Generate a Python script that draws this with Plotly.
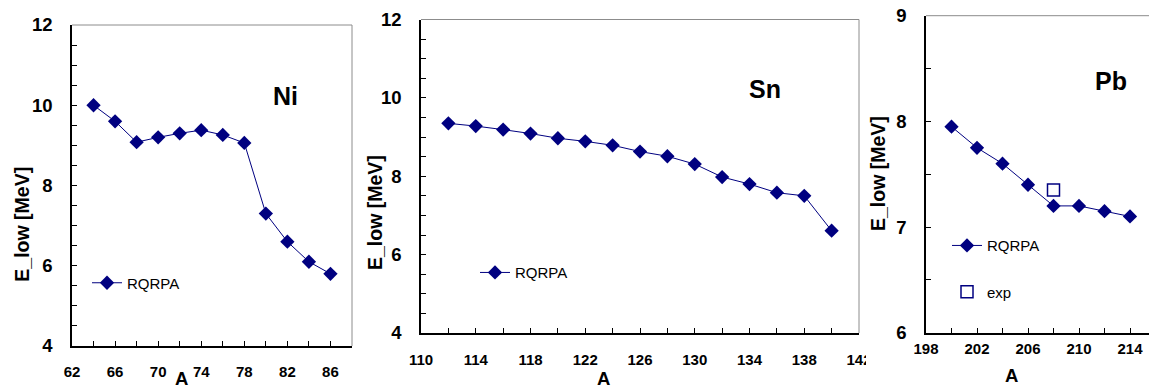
import plotly.graph_objects as go

# Lowest-energy peak positions (RQRPA) along three isotope chains
ni_A = [64, 66, 68, 70, 72, 74, 76, 78, 80, 82, 84, 86]
ni_E = [10.0, 9.6, 9.08, 9.2, 9.3, 9.38, 9.26, 9.06, 7.3, 6.6, 6.1, 5.8]

sn_A = [112, 114, 116, 118, 120, 122, 124, 126, 128, 130, 132, 134, 136, 138, 140]
sn_E = [9.35, 9.28, 9.19, 9.09, 8.97, 8.89, 8.79, 8.63, 8.51, 8.31, 7.98, 7.80, 7.58, 7.50, 6.61]

pb_A = [200, 202, 204, 206, 208, 210, 212, 214]
pb_E = [7.95, 7.75, 7.6, 7.4, 7.2, 7.2, 7.15, 7.1]

# Experimental point for 208Pb
pb_exp_A = [208]
pb_exp_E = [7.35]

W, H = 1149, 392
NAVY = "#000080"
FONT = "Liberation Sans, Arial, sans-serif"


def px_x(p):
    return p / W


def px_y(p):
    return 1 - p / H


fig = go.Figure()

series = [
    (ni_A, ni_E, "x", "y", "legend"),
    (sn_A, sn_E, "x2", "y2", "legend2"),
    (pb_A, pb_E, "x3", "y3", "legend3"),
]
for a, e, xa, ya, lg in series:
    fig.add_trace(go.Scatter(
        x=a, y=e, xaxis=xa, yaxis=ya, mode="lines+markers", name="RQRPA",
        line=dict(color=NAVY, width=1),
        marker=dict(symbol="diamond", size=11, color=NAVY),
        legend=lg,
    ))

fig.add_trace(go.Scatter(
    x=pb_exp_A, y=pb_exp_E, xaxis="x3", yaxis="y3", mode="markers", name="exp",
    marker=dict(symbol="square-open", size=12, color=NAVY, line=dict(width=1.5, color=NAVY)),
    legend="legend4",
))


def xaxis(dom, rng, tick0, standoff, anchor):
    return dict(
        domain=dom, range=rng, anchor=anchor, tick0=tick0, dtick=4,
        ticks="inside", ticklen=5, tickwidth=1, tickcolor="black",
        minor=dict(dtick=2, tick0=tick0, ticks="inside", ticklen=5, tickwidth=1, tickcolor="black"),
        showline=True, linecolor="black", linewidth=1.5, showgrid=False, zeroline=False,
        tickfont=dict(family=FONT, size=15, color="black", weight="bold"),
        ticklabelstandoff=standoff, fixedrange=True, automargin=False,
    )


def yaxis(dom, rng, dtick, anchor):
    return dict(
        domain=dom, range=rng, anchor=anchor, dtick=dtick, tick0=rng[0],
        ticks="inside", ticklen=5, tickwidth=1, tickcolor="black",
        minor=dict(dtick=0.5, ticks="inside", ticklen=5, tickwidth=1, tickcolor="black"),
        showline=True, linecolor="black", linewidth=1.5, showgrid=False, zeroline=False,
        tickfont=dict(family=FONT, size=18.5, color="black", weight="bold"),
        ticklabelstandoff=14, fixedrange=True, automargin=False,
    )


fig.update_layout(
    width=W, height=H, margin=dict(l=0, r=0, t=0, b=0, pad=0, autoexpand=False),
    paper_bgcolor="white", plot_bgcolor="white",
    xaxis=xaxis([px_x(72), px_x(352)], [62, 88], 62, 11, "y"),
    yaxis=yaxis([px_y(346), px_y(25)], [4, 12], 2, "x"),
    xaxis2=xaxis([px_x(421), px_x(859)], [110, 142], 110, 12, "y2"),
    yaxis2=yaxis([px_y(333), px_y(19.5)], [4, 12], 2, "x2"),
    xaxis3=xaxis([px_x(926), 1.0], [198, 215.49], 198, 2, "y3"),
    yaxis3=yaxis([px_y(332.7), px_y(15.7)], [6, 9], 1, "x3"),
    showlegend=True,
)

legend_style = dict(bgcolor="rgba(0,0,0,0)", borderwidth=0, xanchor="left", yanchor="middle",
                    font=dict(family=FONT, size=15, color="black"), itemwidth=30)
fig.update_layout(
    legend=dict(x=px_x(87), y=px_y(283), **legend_style),
    legend2=dict(x=px_x(475), y=px_y(272.7), **legend_style),
    legend3=dict(x=px_x(947), y=px_y(245.7), **legend_style),
    legend4=dict(x=px_x(947), y=px_y(292), **legend_style),
)

# Grey frame on the top and right sides of each panel
shapes = []
for xa, ya, right in [("x", "y", True), ("x2", "y2", True), ("x3", "y3", False)]:
    shapes.append(dict(type="line", xref=f"{xa} domain", yref=f"{ya} domain",
                       x0=0, x1=1, y0=1, y1=1, line=dict(color="#8c8c8c", width=1)))
    if right:
        shapes.append(dict(type="line", xref=f"{xa} domain", yref=f"{ya} domain",
                           x0=1, x1=1, y0=0, y1=1, line=dict(color="#8c8c8c", width=1)))
# The Sn "142" label runs under the Pb panel edge
shapes.append(dict(type="rect", xref="paper", yref="paper", layer="above",
                   x0=px_x(866), x1=px_x(885), y0=px_y(368), y1=px_y(345),
                   fillcolor="white", line=dict(width=0)))
fig.update_layout(shapes=shapes)

annotations = []
# Element labels
for text, x, y in [("Ni", 285, 95.7), ("Sn", 765, 89.3), ("Pb", 1110.7, 81)]:
    annotations.append(dict(text=text, x=px_x(x), y=px_y(y), xref="paper", yref="paper",
                            showarrow=False, xanchor="center", yanchor="middle",
                            font=dict(family=FONT, size=25, color="black", weight="bold")))
# Axis titles
for x, y in [(181.7, 378.5), (603, 378), (1011.7, 375)]:
    annotations.append(dict(text="A", x=px_x(x), y=px_y(y), xref="paper", yref="paper",
                            showarrow=False, xanchor="center", yanchor="middle",
                            font=dict(family=FONT, size=18.5, color="black", weight="bold")))
for x, y in [(21.7, 224), (375, 213), (878, 174)]:
    annotations.append(dict(text="E_low [MeV]", x=px_x(x), y=px_y(y), xref="paper", yref="paper",
                            showarrow=False, xanchor="center", yanchor="middle", textangle=-90,
                            font=dict(family=FONT, size=19.5, color="black", weight="bold")))
fig.update_layout(annotations=annotations)

fig.write_html("out.html")
